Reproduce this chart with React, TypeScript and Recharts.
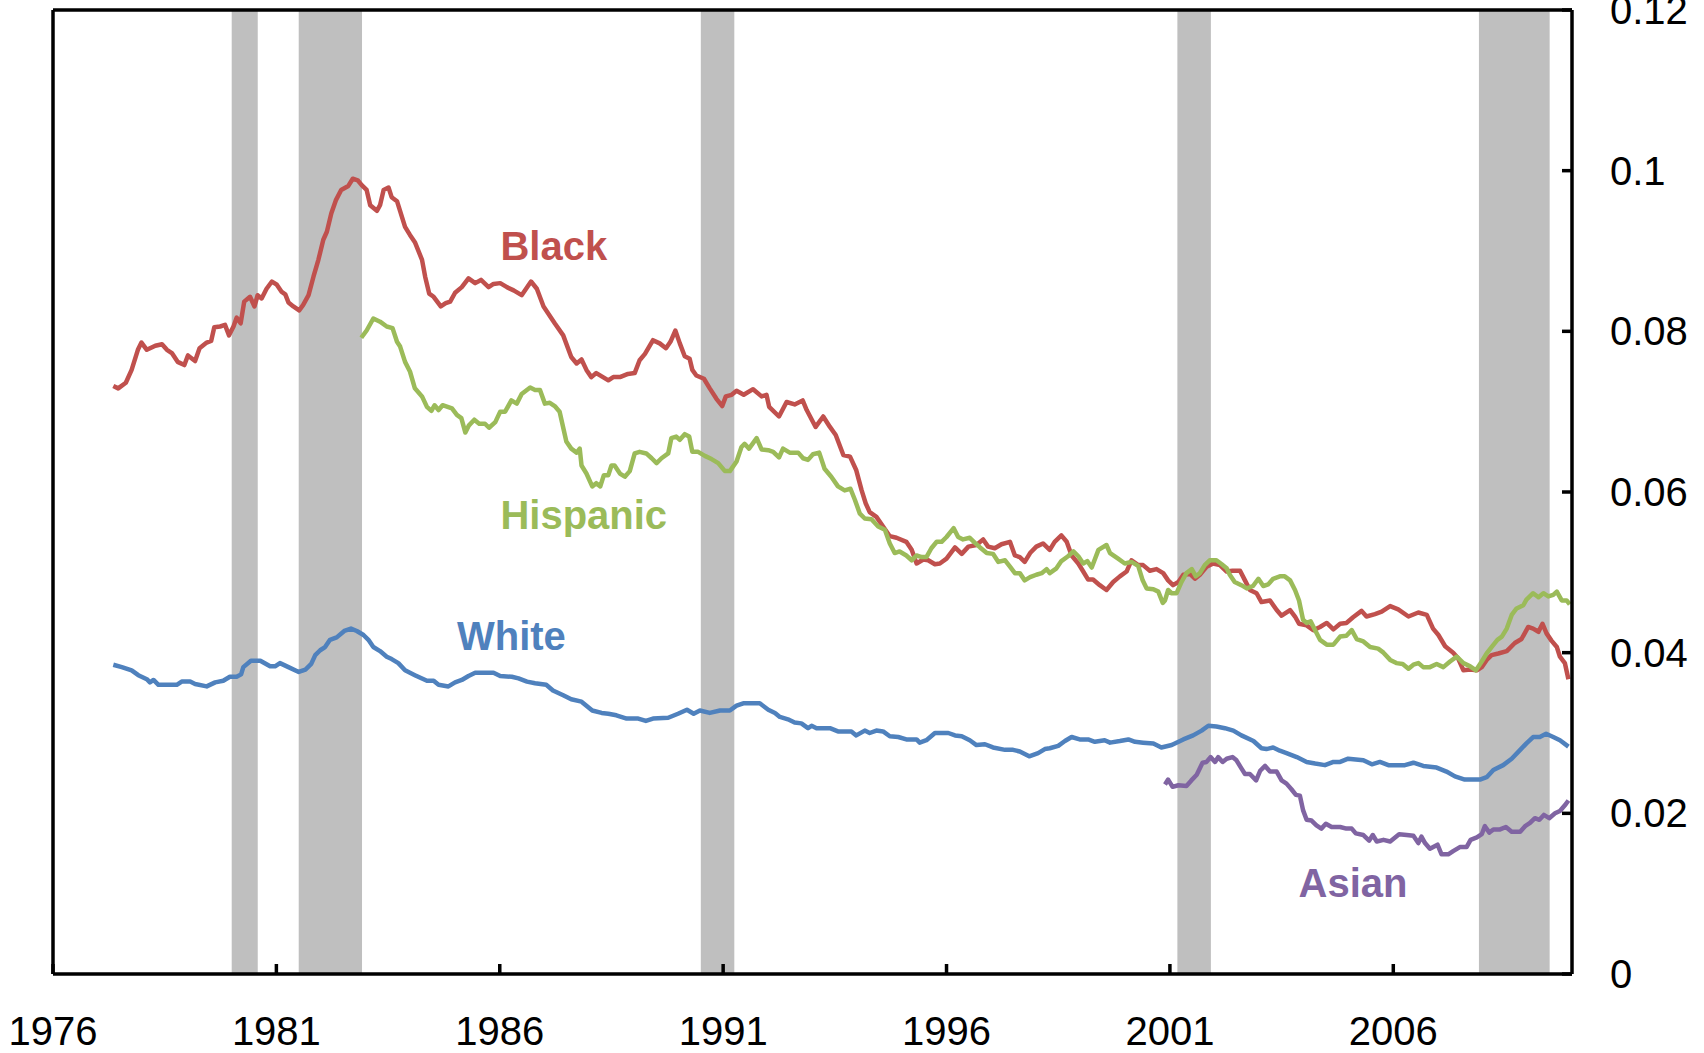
import React from 'react';
import { LineChart, Line, XAxis, YAxis, ReferenceArea, ReferenceLine, ReferenceDot } from 'recharts';

// [year, rate] pairs
const black: [number, number][] = [
  [1977.35, 0.0732], [1977.46, 0.0729], [1977.63, 0.0736], [1977.76, 0.0752], [1977.9, 0.0777], [1977.98, 0.0786],
  [1978.1, 0.0777], [1978.29, 0.0782], [1978.44, 0.0784], [1978.55, 0.0777], [1978.66, 0.0773], [1978.79, 0.0762],
  [1978.94, 0.0758], [1979.02, 0.077], [1979.18, 0.0763], [1979.28, 0.0779], [1979.44, 0.0786], [1979.54, 0.0788],
  [1979.61, 0.0805], [1979.74, 0.0806], [1979.85, 0.0808], [1979.94, 0.0795], [1980.04, 0.0806], [1980.11, 0.0817],
  [1980.2, 0.081], [1980.28, 0.0837], [1980.41, 0.0843], [1980.51, 0.0831], [1980.58, 0.0845], [1980.67, 0.0841],
  [1980.78, 0.0853], [1980.9, 0.0862], [1981.01, 0.0858], [1981.12, 0.0849], [1981.2, 0.0846], [1981.27, 0.0836],
  [1981.38, 0.0831], [1981.51, 0.0826], [1981.6, 0.0833], [1981.72, 0.0845], [1981.83, 0.0868], [1981.94, 0.0889],
  [1982.05, 0.0914], [1982.13, 0.0924], [1982.23, 0.0947], [1982.33, 0.0963], [1982.45, 0.0976], [1982.61, 0.0981],
  [1982.71, 0.099], [1982.82, 0.0988], [1982.91, 0.0982], [1983.02, 0.0976], [1983.1, 0.0957], [1983.25, 0.095],
  [1983.32, 0.0957], [1983.4, 0.0976], [1983.51, 0.0979], [1983.58, 0.0967], [1983.7, 0.0962], [1983.88, 0.093],
  [1983.99, 0.092], [1984.1, 0.0911], [1984.26, 0.0889], [1984.33, 0.0868], [1984.42, 0.0847], [1984.52, 0.0843],
  [1984.68, 0.0831], [1984.79, 0.0835], [1984.89, 0.0837], [1985.0, 0.0848], [1985.15, 0.0855], [1985.3, 0.0866],
  [1985.45, 0.086], [1985.58, 0.0864], [1985.75, 0.0855], [1985.86, 0.0859], [1986.01, 0.086], [1986.16, 0.0855],
  [1986.31, 0.0851], [1986.49, 0.0845], [1986.7, 0.0862], [1986.83, 0.0853], [1986.98, 0.0831], [1987.23, 0.081],
  [1987.42, 0.0795], [1987.6, 0.0768], [1987.72, 0.076], [1987.83, 0.0765], [1987.94, 0.0752], [1988.05, 0.0743],
  [1988.16, 0.0748], [1988.31, 0.0743], [1988.43, 0.0739], [1988.54, 0.0743], [1988.69, 0.0743], [1988.87, 0.0747],
  [1989.02, 0.0748], [1989.13, 0.0764], [1989.25, 0.0772], [1989.43, 0.0789], [1989.58, 0.0785], [1989.72, 0.0779],
  [1989.82, 0.0787], [1989.93, 0.0801], [1990.03, 0.0785], [1990.14, 0.0769], [1990.25, 0.0766], [1990.31, 0.0752],
  [1990.4, 0.0745], [1990.57, 0.0741], [1990.7, 0.0729], [1990.85, 0.0716], [1990.98, 0.0707], [1991.06, 0.0719],
  [1991.19, 0.0721], [1991.3, 0.0726], [1991.46, 0.0721], [1991.67, 0.0728], [1991.86, 0.0719], [1991.97, 0.0721],
  [1992.03, 0.0706], [1992.25, 0.0694], [1992.42, 0.0712], [1992.6, 0.0709], [1992.78, 0.0714], [1992.87, 0.0702],
  [1993.07, 0.0681], [1993.24, 0.0694], [1993.39, 0.0681], [1993.52, 0.0671], [1993.69, 0.0646], [1993.84, 0.0644],
  [1993.98, 0.0627], [1994.1, 0.0602], [1994.19, 0.0586], [1994.28, 0.0575], [1994.43, 0.0569], [1994.58, 0.0557],
  [1994.73, 0.0545], [1994.88, 0.0543], [1995.1, 0.0538], [1995.22, 0.0528], [1995.33, 0.0511], [1995.48, 0.0516],
  [1995.59, 0.0515], [1995.74, 0.051], [1995.85, 0.0511], [1996.0, 0.0517], [1996.19, 0.0531], [1996.34, 0.0523],
  [1996.49, 0.0532], [1996.67, 0.0534], [1996.82, 0.0541], [1996.93, 0.0532], [1997.08, 0.053], [1997.23, 0.0535],
  [1997.42, 0.0538], [1997.53, 0.0521], [1997.64, 0.0519], [1997.75, 0.0513], [1997.87, 0.0524], [1998.01, 0.0532],
  [1998.16, 0.0536], [1998.31, 0.0528], [1998.42, 0.0538], [1998.57, 0.0546], [1998.69, 0.0538], [1998.8, 0.0521],
  [1998.95, 0.0511], [1999.06, 0.0501], [1999.17, 0.0491], [1999.28, 0.0491], [1999.43, 0.0484], [1999.58, 0.0478],
  [1999.73, 0.0488], [1999.88, 0.0495], [2000.03, 0.0501], [2000.14, 0.0515], [2000.29, 0.0509], [2000.4, 0.0509],
  [2000.55, 0.0502], [2000.7, 0.0504], [2000.85, 0.0499], [2000.96, 0.049], [2001.07, 0.0484], [2001.19, 0.0488],
  [2001.3, 0.0497], [2001.45, 0.0498], [2001.56, 0.0492], [2001.67, 0.0497], [2001.82, 0.0507], [2001.97, 0.0511],
  [2002.12, 0.0509], [2002.27, 0.0501], [2002.4, 0.0502], [2002.57, 0.0502], [2002.68, 0.049], [2002.79, 0.0478],
  [2002.94, 0.0474], [2003.05, 0.0463], [2003.24, 0.0465], [2003.39, 0.0453], [2003.5, 0.0446], [2003.69, 0.0453],
  [2003.8, 0.0445], [2003.89, 0.0436], [2004.06, 0.0434], [2004.21, 0.0428], [2004.36, 0.0432], [2004.51, 0.0437],
  [2004.66, 0.0429], [2004.81, 0.0436], [2004.95, 0.0437], [2005.1, 0.0444], [2005.29, 0.0452], [2005.4, 0.0445],
  [2005.59, 0.0448], [2005.74, 0.0451], [2005.93, 0.0458], [2006.11, 0.0454], [2006.34, 0.0445], [2006.56, 0.045],
  [2006.75, 0.0447], [2006.89, 0.043], [2007.01, 0.0422], [2007.16, 0.0408], [2007.34, 0.04], [2007.45, 0.0393],
  [2007.57, 0.0378], [2007.72, 0.0379], [2007.87, 0.0378], [2007.98, 0.0382], [2008.09, 0.0391], [2008.2, 0.0397],
  [2008.35, 0.0399], [2008.54, 0.0402], [2008.72, 0.0412], [2008.87, 0.0417], [2009.02, 0.0432], [2009.13, 0.043],
  [2009.25, 0.0426], [2009.34, 0.0436], [2009.43, 0.0424], [2009.54, 0.0415], [2009.66, 0.0407], [2009.73, 0.0395],
  [2009.84, 0.0387], [2009.92, 0.0367],
];

const hispanic: [number, number][] = [
  [1982.9, 0.0792], [1983.02, 0.0801], [1983.17, 0.0816], [1983.32, 0.0812], [1983.47, 0.0806], [1983.6, 0.0804],
  [1983.7, 0.0787], [1983.77, 0.0781], [1983.88, 0.0762], [1983.99, 0.075], [1984.1, 0.0729], [1984.26, 0.0719],
  [1984.37, 0.0706], [1984.47, 0.0701], [1984.54, 0.0708], [1984.63, 0.0702], [1984.72, 0.0708], [1984.93, 0.0704],
  [1985.04, 0.0696], [1985.14, 0.0692], [1985.23, 0.0674], [1985.31, 0.0683], [1985.43, 0.069], [1985.54, 0.0685],
  [1985.67, 0.0685], [1985.76, 0.068], [1985.9, 0.0687], [1986.01, 0.07], [1986.12, 0.07], [1986.26, 0.0714],
  [1986.38, 0.071], [1986.49, 0.0722], [1986.68, 0.073], [1986.79, 0.0727], [1986.9, 0.0727], [1987.01, 0.071],
  [1987.12, 0.0711], [1987.23, 0.0707], [1987.34, 0.07], [1987.49, 0.0663], [1987.6, 0.0654], [1987.72, 0.0649],
  [1987.79, 0.0654], [1987.83, 0.0633], [1987.94, 0.0623], [1988.07, 0.0607], [1988.16, 0.0611], [1988.25, 0.0607],
  [1988.33, 0.0621], [1988.43, 0.0621], [1988.5, 0.0633], [1988.57, 0.0633], [1988.69, 0.0623], [1988.8, 0.0619],
  [1988.91, 0.0626], [1989.02, 0.0648], [1989.13, 0.065], [1989.28, 0.0648], [1989.4, 0.0642], [1989.51, 0.0636],
  [1989.62, 0.0642], [1989.77, 0.0648], [1989.84, 0.0667], [1989.95, 0.0669], [1990.03, 0.0665], [1990.14, 0.0672],
  [1990.24, 0.0669], [1990.31, 0.065], [1990.44, 0.065], [1990.59, 0.0645], [1990.74, 0.0641], [1990.89, 0.0636],
  [1991.04, 0.0626], [1991.15, 0.0626], [1991.3, 0.0638], [1991.41, 0.0656], [1991.48, 0.066], [1991.58, 0.0654],
  [1991.75, 0.0667], [1991.86, 0.0653], [1992.01, 0.0652], [1992.12, 0.065], [1992.25, 0.0643], [1992.34, 0.0654],
  [1992.49, 0.0649], [1992.68, 0.0649], [1992.79, 0.0642], [1992.9, 0.064], [1993.01, 0.0647], [1993.15, 0.0649],
  [1993.27, 0.0629], [1993.42, 0.0619], [1993.57, 0.0607], [1993.72, 0.0602], [1993.85, 0.0604], [1993.95, 0.059],
  [1994.06, 0.0573], [1994.17, 0.0567], [1994.32, 0.0566], [1994.47, 0.0557], [1994.62, 0.0553], [1994.73, 0.0536],
  [1994.84, 0.0524], [1994.95, 0.0526], [1995.1, 0.0521], [1995.22, 0.0515], [1995.33, 0.0521], [1995.44, 0.0519],
  [1995.55, 0.0519], [1995.66, 0.053], [1995.78, 0.0538], [1995.89, 0.0538], [1996.0, 0.0544], [1996.16, 0.0555],
  [1996.26, 0.0544], [1996.37, 0.0541], [1996.52, 0.0543], [1996.63, 0.0537], [1996.75, 0.0531], [1996.9, 0.0524],
  [1997.04, 0.0523], [1997.16, 0.0513], [1997.31, 0.0515], [1997.42, 0.0507], [1997.53, 0.0499], [1997.64, 0.0499],
  [1997.75, 0.049], [1997.87, 0.0494], [1998.01, 0.0497], [1998.13, 0.0499], [1998.24, 0.0504], [1998.31, 0.0499],
  [1998.46, 0.0505], [1998.57, 0.0514], [1998.72, 0.052], [1998.84, 0.0526], [1998.95, 0.052], [1999.06, 0.0511],
  [1999.15, 0.0514], [1999.25, 0.0506], [1999.4, 0.0528], [1999.58, 0.0534], [1999.66, 0.0524], [1999.84, 0.0517],
  [1999.99, 0.0511], [2000.14, 0.0513], [2000.29, 0.0508], [2000.39, 0.049], [2000.48, 0.048], [2000.63, 0.0479],
  [2000.74, 0.0476], [2000.84, 0.0462], [2000.89, 0.0465], [2000.96, 0.0478], [2001.04, 0.0474], [2001.15, 0.0474],
  [2001.26, 0.0488], [2001.37, 0.0499], [2001.49, 0.0504], [2001.58, 0.0495], [2001.67, 0.0499], [2001.78, 0.0509],
  [2001.89, 0.0515], [2002.04, 0.0515], [2002.16, 0.051], [2002.27, 0.0505], [2002.34, 0.0497], [2002.45, 0.0488],
  [2002.6, 0.0484], [2002.72, 0.048], [2002.86, 0.0483], [2002.98, 0.0492], [2003.09, 0.0483], [2003.2, 0.0485],
  [2003.31, 0.0492], [2003.46, 0.0495], [2003.57, 0.0495], [2003.69, 0.049], [2003.8, 0.0478], [2003.89, 0.0465],
  [2003.98, 0.0441], [2004.06, 0.0437], [2004.15, 0.0439], [2004.25, 0.0428], [2004.36, 0.0416], [2004.51, 0.041],
  [2004.66, 0.041], [2004.81, 0.042], [2004.95, 0.0421], [2005.07, 0.0428], [2005.18, 0.0417], [2005.33, 0.0414],
  [2005.48, 0.0407], [2005.66, 0.0405], [2005.78, 0.04], [2005.93, 0.0391], [2006.07, 0.0387], [2006.21, 0.0386],
  [2006.34, 0.038], [2006.45, 0.0385], [2006.56, 0.0387], [2006.67, 0.0382], [2006.82, 0.0382], [2006.97, 0.0386],
  [2007.12, 0.0382], [2007.27, 0.0389], [2007.42, 0.0395], [2007.57, 0.0387], [2007.72, 0.0383], [2007.85, 0.0378],
  [2007.98, 0.0389], [2008.09, 0.0399], [2008.2, 0.0407], [2008.33, 0.0416], [2008.43, 0.042], [2008.54, 0.043],
  [2008.65, 0.0447], [2008.76, 0.0455], [2008.91, 0.0459], [2008.98, 0.0466], [2009.13, 0.0474], [2009.25, 0.0469],
  [2009.36, 0.0474], [2009.47, 0.047], [2009.58, 0.0472], [2009.66, 0.0476], [2009.77, 0.0465], [2009.88, 0.0465],
  [2009.95, 0.046],
];

const white: [number, number][] = [
  [1977.35, 0.0385], [1977.54, 0.0382], [1977.76, 0.0378], [1977.91, 0.0372], [1978.1, 0.0367], [1978.17, 0.0363],
  [1978.25, 0.0366], [1978.36, 0.036], [1978.58, 0.036], [1978.77, 0.036], [1978.88, 0.0364], [1979.07, 0.0364],
  [1979.18, 0.0361], [1979.44, 0.0358], [1979.63, 0.0363], [1979.81, 0.0365], [1979.96, 0.037], [1980.11, 0.037],
  [1980.21, 0.0373], [1980.26, 0.0382], [1980.43, 0.039], [1980.64, 0.039], [1980.86, 0.0383], [1980.97, 0.0383],
  [1981.08, 0.0387], [1981.27, 0.0382], [1981.5, 0.0376], [1981.65, 0.0379], [1981.78, 0.0386], [1981.87, 0.0397],
  [1981.98, 0.0403], [1982.09, 0.0407], [1982.2, 0.0416], [1982.35, 0.0419], [1982.52, 0.0427], [1982.67, 0.043],
  [1982.8, 0.0427], [1982.95, 0.0422], [1983.06, 0.0416], [1983.17, 0.0407], [1983.32, 0.0402], [1983.47, 0.0395],
  [1983.58, 0.0392], [1983.73, 0.0387], [1983.88, 0.0378], [1984.1, 0.0372], [1984.37, 0.0365], [1984.52, 0.0365],
  [1984.63, 0.036], [1984.85, 0.0358], [1985.0, 0.0363], [1985.15, 0.0366], [1985.3, 0.0371], [1985.45, 0.0375],
  [1985.67, 0.0375], [1985.86, 0.0375], [1986.01, 0.0371], [1986.27, 0.037], [1986.42, 0.0368], [1986.61, 0.0364],
  [1986.79, 0.0362], [1987.04, 0.036], [1987.19, 0.0353], [1987.42, 0.0347], [1987.6, 0.0342], [1987.83, 0.0339],
  [1988.07, 0.0328], [1988.28, 0.0325], [1988.43, 0.0324], [1988.61, 0.0322], [1988.84, 0.0318], [1989.1, 0.0318],
  [1989.27, 0.0315], [1989.43, 0.0318], [1989.77, 0.0319], [1989.99, 0.0324], [1990.19, 0.0329], [1990.34, 0.0324],
  [1990.48, 0.0328], [1990.7, 0.0325], [1990.93, 0.0328], [1991.15, 0.0328], [1991.3, 0.0334], [1991.45, 0.0337],
  [1991.82, 0.0337], [1992.01, 0.0329], [1992.16, 0.0325], [1992.27, 0.032], [1992.45, 0.0317], [1992.6, 0.0313],
  [1992.75, 0.0312], [1992.9, 0.0306], [1992.98, 0.0309], [1993.09, 0.0306], [1993.39, 0.0306], [1993.57, 0.0302],
  [1993.87, 0.0302], [1993.98, 0.0297], [1994.17, 0.0303], [1994.28, 0.03], [1994.43, 0.0303], [1994.58, 0.0302],
  [1994.73, 0.0296], [1994.92, 0.0295], [1995.1, 0.0292], [1995.33, 0.0292], [1995.4, 0.0288], [1995.55, 0.0291],
  [1995.74, 0.03], [1996.04, 0.03], [1996.19, 0.0297], [1996.34, 0.0296], [1996.52, 0.0291], [1996.67, 0.0285],
  [1996.86, 0.0286], [1997.04, 0.0282], [1997.31, 0.0279], [1997.49, 0.0279], [1997.64, 0.0277], [1997.85, 0.0271],
  [1998.05, 0.0275], [1998.2, 0.028], [1998.31, 0.0281], [1998.5, 0.0284], [1998.65, 0.029], [1998.8, 0.0295],
  [1998.98, 0.0292], [1999.17, 0.0292], [1999.32, 0.0289], [1999.54, 0.0291], [1999.66, 0.0288], [1999.88, 0.029],
  [2000.07, 0.0292], [2000.22, 0.0289], [2000.4, 0.0288], [2000.63, 0.0287], [2000.81, 0.0282], [2001.04, 0.0285],
  [2001.3, 0.0292], [2001.52, 0.0297], [2001.71, 0.0303], [2001.86, 0.0309], [2002.04, 0.0308], [2002.23, 0.0306],
  [2002.42, 0.0303], [2002.6, 0.0297], [2002.87, 0.029], [2003.05, 0.0281], [2003.16, 0.028], [2003.31, 0.0282],
  [2003.46, 0.0278], [2003.61, 0.0275], [2003.84, 0.027], [2004.06, 0.0264], [2004.25, 0.0262], [2004.47, 0.026],
  [2004.66, 0.0264], [2004.81, 0.0264], [2004.99, 0.0268], [2005.33, 0.0266], [2005.52, 0.0261], [2005.7, 0.0264],
  [2005.89, 0.026], [2006.26, 0.026], [2006.45, 0.0263], [2006.67, 0.0259], [2006.97, 0.0257], [2007.19, 0.0252],
  [2007.38, 0.0246], [2007.6, 0.0242], [2007.94, 0.0242], [2008.09, 0.0245], [2008.24, 0.0254], [2008.46, 0.026],
  [2008.65, 0.0268], [2008.84, 0.0279], [2008.98, 0.0287], [2009.13, 0.0295], [2009.28, 0.0295], [2009.42, 0.0299],
  [2009.58, 0.0295], [2009.73, 0.0291], [2009.92, 0.0283],
];

const asian: [number, number][] = [
  [2000.89, 0.0236], [2000.96, 0.0242], [2001.06, 0.0233], [2001.19, 0.0235], [2001.37, 0.0234], [2001.48, 0.0241],
  [2001.6, 0.0248], [2001.73, 0.0263], [2001.82, 0.0264], [2001.91, 0.027], [2002.01, 0.0264], [2002.08, 0.027],
  [2002.18, 0.0264], [2002.27, 0.0268], [2002.4, 0.027], [2002.49, 0.0266], [2002.6, 0.0256], [2002.68, 0.0249],
  [2002.79, 0.0249], [2002.93, 0.0241], [2003.02, 0.0253], [2003.13, 0.0259], [2003.24, 0.0252], [2003.39, 0.0252],
  [2003.5, 0.0241], [2003.61, 0.0237], [2003.72, 0.023], [2003.82, 0.0223], [2003.91, 0.0222], [2003.98, 0.0204],
  [2004.06, 0.0192], [2004.17, 0.0191], [2004.28, 0.0185], [2004.39, 0.0181], [2004.49, 0.0187], [2004.62, 0.0183],
  [2004.81, 0.0183], [2004.95, 0.0181], [2005.07, 0.0181], [2005.16, 0.0175], [2005.33, 0.0173], [2005.46, 0.0166],
  [2005.54, 0.0173], [2005.63, 0.0165], [2005.78, 0.0167], [2005.93, 0.0165], [2006.13, 0.0174], [2006.3, 0.0173],
  [2006.45, 0.0172], [2006.56, 0.0163], [2006.63, 0.0171], [2006.71, 0.0163], [2006.82, 0.0156], [2006.99, 0.0161],
  [2007.08, 0.0149], [2007.23, 0.0149], [2007.34, 0.0153], [2007.49, 0.0158], [2007.64, 0.0158], [2007.73, 0.0167],
  [2007.87, 0.017], [2007.98, 0.0174], [2008.05, 0.0184], [2008.15, 0.0176], [2008.24, 0.018], [2008.39, 0.018],
  [2008.52, 0.0183], [2008.65, 0.0177], [2008.84, 0.0177], [2008.95, 0.0184], [2009.06, 0.0188], [2009.17, 0.0194],
  [2009.27, 0.0192], [2009.37, 0.0198], [2009.49, 0.0194], [2009.62, 0.02], [2009.73, 0.0203], [2009.84, 0.021],
  [2009.92, 0.0216],
];

// NBER recessions [start, end]
const recessions: [number, number][] = [
  [1980.0, 1980.583],
  [1981.5, 1982.917],
  [1990.5, 1991.25],
  [2001.167, 2001.917],
  [2007.917, 2009.5],
];

const yearTicks = [1976, 1981, 1986, 1991, 1996, 2001, 2006];
const rateTicks = [0, 0.02, 0.04, 0.06, 0.08, 0.1, 0.12];

// series labels placed in data coordinates
const seriesLabels = [
  { name: 'Black', x: 1987.21, y: 0.0906, color: '#C0504D' },
  { name: 'Hispanic', x: 1987.88, y: 0.0571, color: '#9BBB59' },
  { name: 'White', x: 1986.26, y: 0.0421, color: '#4F81BD' },
  { name: 'Asian', x: 2005.1, y: 0.0114, color: '#8064A2' },
];

const FONT = '"Liberation Sans", Arial, sans-serif';

const toPoints = (rows: [number, number][]) => rows.map(([year, rate]) => ({ year, rate }));

function BottomTick({ x, y, payload }: any) {
  return (
    <g>
      <line x1={x} x2={x} y1={y} y2={y - 10} stroke="#000" strokeWidth={3.5} />
      <text x={x} y={y + 71} textAnchor="middle" fontSize={40} fontFamily={FONT} fill="#000">
        {payload.value}
      </text>
    </g>
  );
}

function LeftTick({ x, y }: any) {
  return <line x1={x} x2={x + 10} y1={y} y2={y} stroke="#000" strokeWidth={3.5} />;
}

function RightTick({ x, y, payload }: any) {
  return (
    <g>
      <line x1={x} x2={x - 10} y1={y} y2={y} stroke="#000" strokeWidth={3.5} />
      <text x={x + 38} y={y + 14} textAnchor="start" fontSize={40} fontFamily={FONT} fill="#000">
        {String(payload.value)}
      </text>
    </g>
  );
}

export default function App() {
  const series = [
    { key: 'white', data: toPoints(white), color: '#4F81BD' },
    { key: 'black', data: toPoints(black), color: '#C0504D' },
    { key: 'hispanic', data: toPoints(hispanic), color: '#9BBB59' },
    { key: 'asian', data: toPoints(asian), color: '#8064A2' },
  ];

  return (
    <div style={{ position: 'absolute', left: 0, top: 0, background: '#fff' }}>
      <LineChart width={1704} height={1053} margin={{ top: 10, right: 0, bottom: 0, left: 0 }}>
        <XAxis
          dataKey="year"
          type="number"
          domain={[1976, 2010]}
          ticks={yearTicks}
          allowDataOverflow
          height={79}
          tickSize={0}
          tickMargin={0}
          tickLine={false}
          axisLine={{ stroke: '#000', strokeWidth: 3.5 }}
          tick={<BottomTick />}
          interval={0}
        />
        <YAxis
          yAxisId="left"
          orientation="left"
          type="number"
          domain={[0, 0.12]}
          ticks={rateTicks}
          width={53}
          tickSize={0}
          tickMargin={0}
          tickLine={false}
          axisLine={{ stroke: '#000', strokeWidth: 3.5 }}
          tick={<LeftTick />}
          interval={0}
        />
        <YAxis
          yAxisId="right"
          orientation="right"
          type="number"
          domain={[0, 0.12]}
          ticks={rateTicks}
          width={132}
          tickSize={0}
          tickMargin={0}
          tickLine={false}
          axisLine={{ stroke: '#000', strokeWidth: 3.5 }}
          tick={<RightTick />}
          interval={0}
        />
        {recessions.map(([start, end]) => (
          <ReferenceArea
            key={start}
            yAxisId="right"
            x1={start}
            x2={end}
            y1={0}
            y2={0.12}
            fill="#BFBFBF"
            fillOpacity={1}
            stroke="none"
          />
        ))}
        <ReferenceLine yAxisId="right" y={0.12} stroke="#000" strokeWidth={3.5} />
        {series.map((s) => (
          <Line
            key={s.key}
            yAxisId="right"
            data={s.data}
            dataKey="rate"
            type="linear"
            stroke={s.color}
            strokeWidth={4.5}
            strokeLinejoin="round"
            dot={false}
            activeDot={false}
            isAnimationActive={false}
          />
        ))}
        {seriesLabels.map((l) => (
          <ReferenceDot
            key={l.name}
            yAxisId="right"
            x={l.x}
            y={l.y}
            r={0}
            fill="none"
            stroke="none"
            label={{
              value: l.name,
              position: 'center',
              fill: l.color,
              fontSize: 40,
              fontWeight: 'bold',
              fontFamily: FONT,
            }}
          />
        ))}
      </LineChart>
    </div>
  );
}
